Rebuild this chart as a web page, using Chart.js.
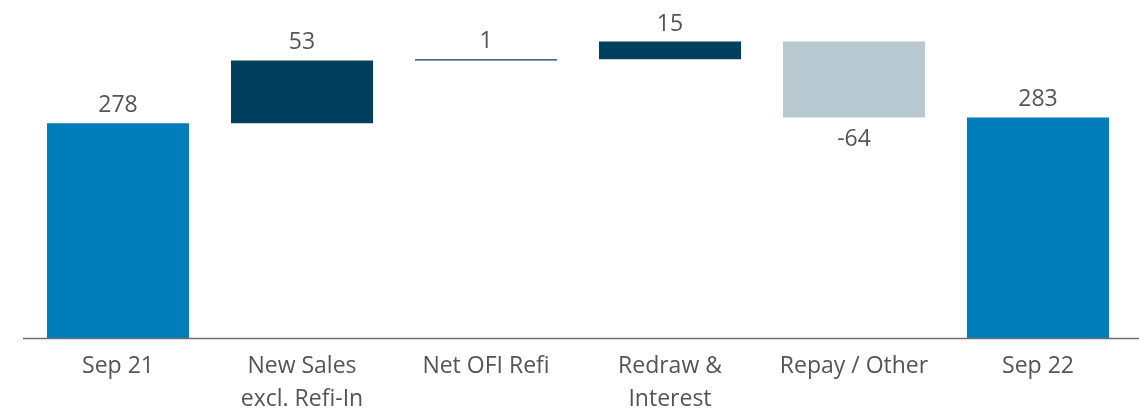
<!DOCTYPE html>
<html>
<head>
<meta charset="utf-8">
<script src="https://cdn.jsdelivr.net/npm/chart.js@4"></script>
<style>
  body { margin: 0; background: #ffffff; }
  canvas { display: block; }
</style>
</head>
<body>
<canvas id="chart-waterfall" width="1139" height="410"></canvas>
<script>
// Categorias e valores do gráfico cascata
var categories = [['Sep 21'], ['New Sales', 'excl. Refi-In'], ['Net OFI Refi'], ['Redraw &', 'Interest'], ['Repay / Other'], ['Sep 22']];
var changes = [278, 53, 1, 15, -64, 283];
var isTotal = [true, false, false, false, false, true];
var barColors = ['#007DBA', '#00405F', '#00405F', '#00405F', '#B8C9D1', '#007DBA'];

// monta as barras flutuantes [inicio, fim]
var ranges = [];
var running = 0;
changes.forEach(function(value, index) {
    if (isTotal[index]) {
        ranges.push([0, value]);
        running = value;
    } else {
        ranges.push([running, running + value]);
        running += value;
    }
});

var textColor = '#555555';

// rótulos dos valores e linha do eixo
var waterfallLabels = {
    id: 'waterfallLabels',
    afterDatasetsDraw: function(chart) {
        var ctx = chart.ctx;
        var meta = chart.getDatasetMeta(0);
        ctx.save();
        // linha do eixo x
        ctx.strokeStyle = '#6d6d6d';
        ctx.lineWidth = 1.5;
        ctx.beginPath();
        ctx.moveTo(23, chart.chartArea.bottom + 0.5);
        ctx.lineTo(chart.width, chart.chartArea.bottom + 0.5);
        ctx.stroke();

        ctx.fillStyle = textColor;
        ctx.font = '23px "Open Sans"';
        ctx.textAlign = 'center';
        ctx.textBaseline = 'alphabetic';
        meta.data.forEach(function(bar, i) {
            var top = Math.min(bar.y, bar.base);
            var bottom = Math.max(bar.y, bar.base);
            if (changes[i] < 0) {
                ctx.fillText(String(changes[i]), bar.x, bottom + 29);
            } else {
                ctx.fillText(String(changes[i]), bar.x, top - 11);
            }
        });
        ctx.restore();
    }
};

var ctx = document.getElementById('chart-waterfall').getContext('2d');
new Chart(ctx, {
    type: 'bar',
    data: {
        labels: categories,
        datasets: [{
            data: ranges,
            backgroundColor: barColors,
            borderWidth: 0,
            borderSkipped: false,
            categoryPercentage: 1,
            barPercentage: 0.772
        }]
    },
    options: {
        responsive: false,
        animation: false,
        layout: { padding: { left: 26, right: 9, top: 0, bottom: 0 } },
        plugins: {
            legend: { display: false },
            tooltip: { enabled: false }
        },
        scales: {
            x: {
                grid: { display: false },
                border: { display: false },
                ticks: {
                    color: textColor,
                    font: { family: '"Open Sans"', size: 23, lineHeight: 1.42 },
                    padding: 4,
                    maxRotation: 0,
                    autoSkip: false
                },
                afterFit: function(scale) { scale.height = 72; }
            },
            y: {
                display: false,
                min: 97,
                max: 382
            }
        }
    },
    plugins: [waterfallLabels]
});
</script>
</body>
</html>
